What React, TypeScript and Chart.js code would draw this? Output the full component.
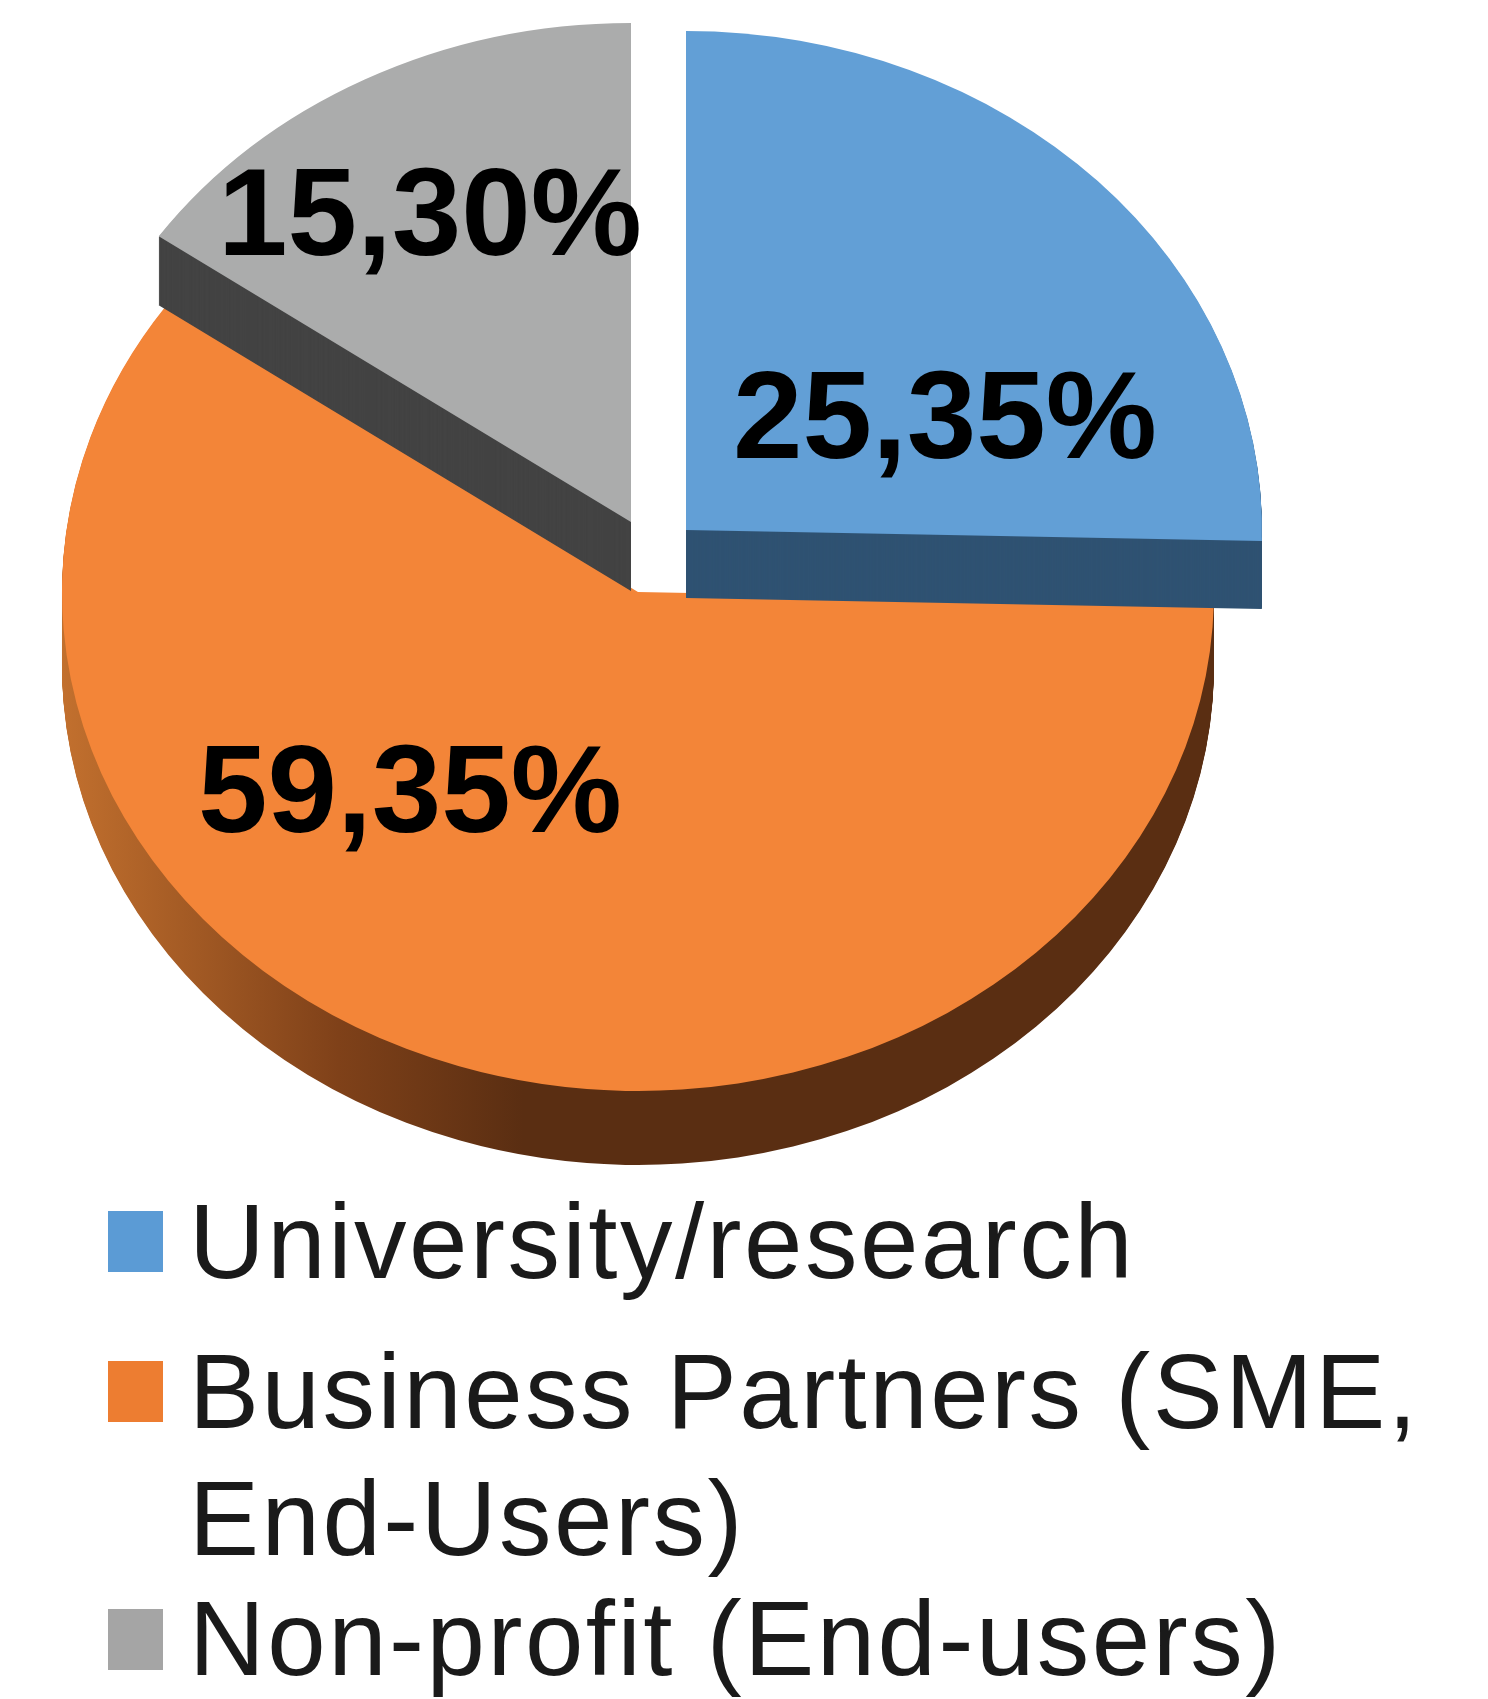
import React, { useEffect, useRef } from "react";
import { Chart, registerables } from "chart.js";

Chart.register(...registerables);

const categories: string[][] = [
  ["University/research"],
  ["Business Partners (SME,", "End-Users)"],
  ["Non-profit (End-users)"],
];
const shares = [25.35, 59.35, 15.3];

const topColors = ["#629FD6", "#F38538", "#ABACAC"];
const rimColors = ["#2F5272", "", "#434343"];
const swatchColors = ["#5B9BD5", "#ED7D31", "#A5A5A5"];

const sliceShiftX = [48, 0, -7];
const sliceShiftY = [-62, 0, -70];
const sliceDepth = [68, 74, 69];
const labelShiftX = [95, -440, -420];
const labelShiftY = [-134, 240, -337];
const legendSwatchY = [1211, 1361, 1609];
const legendBaselines = [[1278], [1428, 1555], [1675]];

const tilt = 499 / 576;
const FONT = '"Liberation Sans", Arial, sans-serif';

const piePlugin = {
  id: "tiltedPie",
  beforeDatasetsDraw(chart: any) {
    const ctx = chart.ctx;
    const arcs = chart.getDatasetMeta(0).data;
    const rimGradient = ctx.createLinearGradient(62, 0, 1215, 0);
    rimGradient.addColorStop(0, "#C2702E");
    rimGradient.addColorStop(0.24, "#7F4119");
    rimGradient.addColorStop(0.4, "#5A2E12");
    rimGradient.addColorStop(1, "#5A2E12");

    const paint = (i: number, fill: any, drop: number) => {
      const arc = arcs[i];
      const saved = arc.options;
      arc.options = { ...saved, backgroundColor: fill };
      ctx.save();
      ctx.translate(arc.x + sliceShiftX[i], arc.y + sliceShiftY[i] + drop);
      ctx.scale(1, tilt);
      ctx.translate(-arc.x, -arc.y);
      arc.draw(ctx);
      ctx.restore();
      arc.options = saved;
    };

    [1, 2, 0].forEach((i) => {
      const rim = i === 1 ? rimGradient : rimColors[i];
      for (let d = sliceDepth[i]; d >= 1; d--) paint(i, rim, d);
      paint(i, topColors[i], 0);
    });
    return false;
  },
  afterDraw(chart: any) {
    const ctx = chart.ctx;
    const arcs = chart.getDatasetMeta(0).data;
    ctx.save();
    ctx.textAlign = "left";
    ctx.textBaseline = "alphabetic";

    ctx.fillStyle = "#000000";
    ctx.font = `bold 125px ${FONT}`;
    chart.data.datasets[0].data.forEach((v: number, i: number) => {
      const text = v.toFixed(2).replace(".", ",") + "%";
      ctx.fillText(text, arcs[1].x + labelShiftX[i], arcs[1].y + labelShiftY[i]);
    });

    ctx.font = `105px ${FONT}`;
    ctx.letterSpacing = "2.5px";
    (chart.data.labels as string[][]).forEach((lines, i) => {
      ctx.fillStyle = swatchColors[i];
      ctx.fillRect(108, legendSwatchY[i], 55, 61);
      ctx.fillStyle = "#1A1A1A";
      lines.forEach((line, j) => ctx.fillText(line, 189, legendBaselines[i][j]));
    });
    ctx.restore();
  },
};

export default function App() {
  const ref = useRef<HTMLCanvasElement>(null);
  useEffect(() => {
    const chart = new Chart(ref.current as HTMLCanvasElement, {
      type: "pie",
      data: {
        labels: categories as any,
        datasets: [{ data: shares, backgroundColor: topColors, borderWidth: 0 }],
      },
      options: {
        animation: false,
        responsive: false,
        rotation: 0,
        layout: { padding: { left: 62, right: 274, top: 16, bottom: 531 } },
        plugins: { legend: { display: false }, tooltip: { enabled: false } },
      },
      plugins: [piePlugin],
    } as any);
    return () => chart.destroy();
  }, []);
  return (
    <canvas
      ref={ref}
      width={1488}
      height={1699}
      style={{ position: "absolute", left: 0, top: 0, width: 1488, height: 1699, display: "block" }}
    />
  );
}
